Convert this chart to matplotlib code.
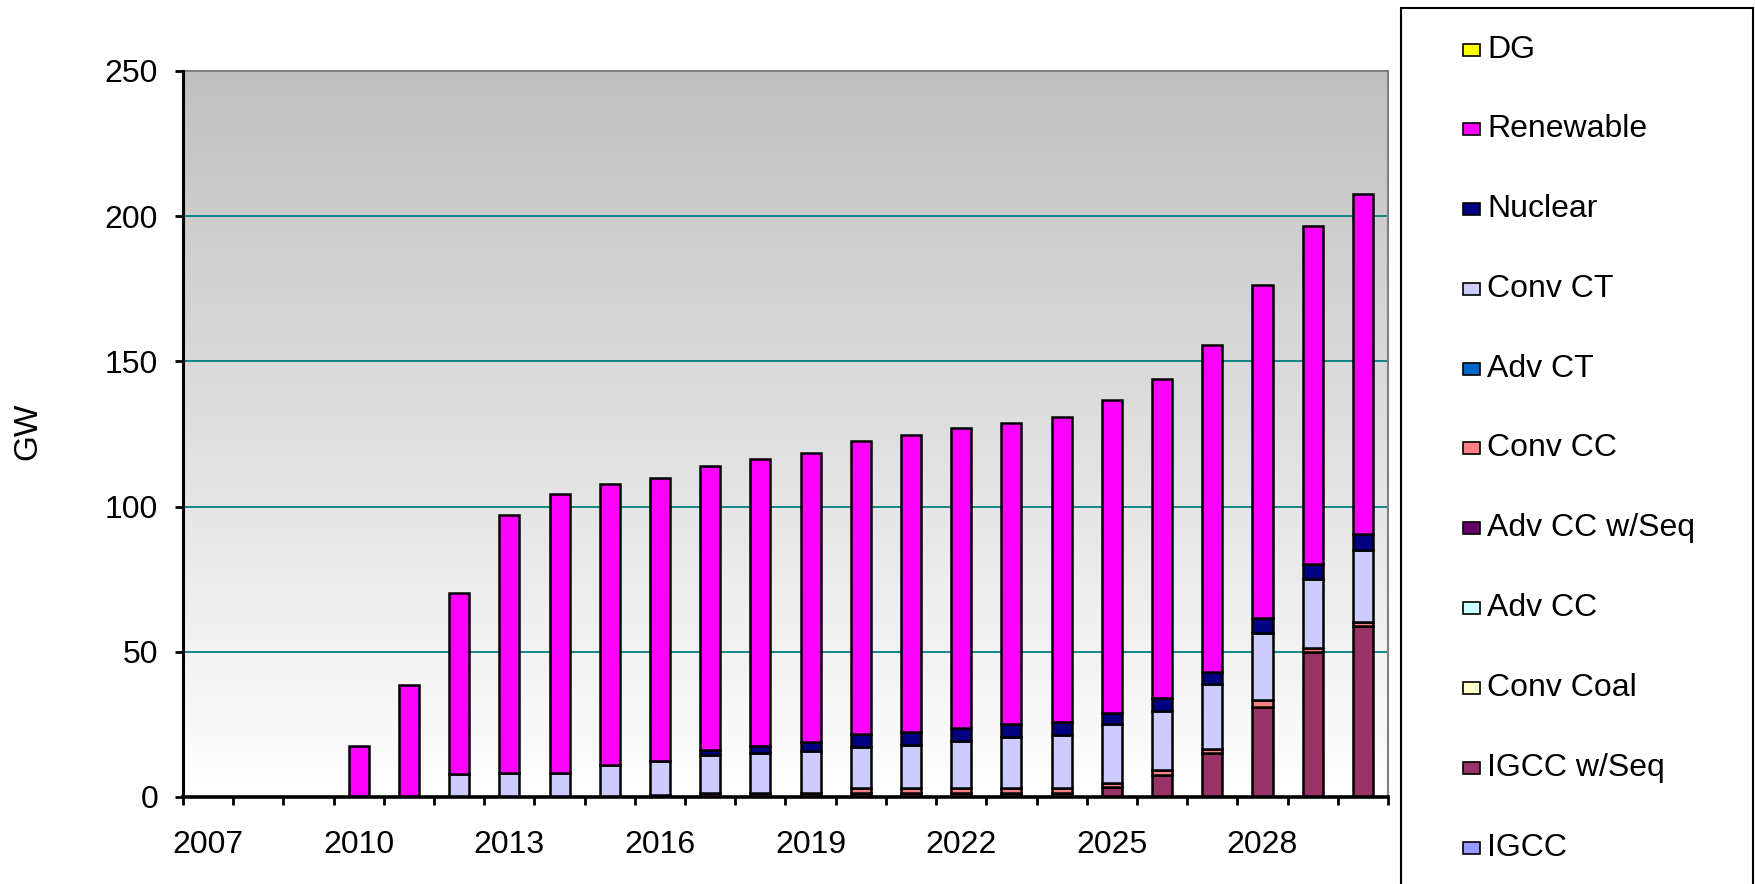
import numpy as np
import matplotlib
matplotlib.use("Agg")
import matplotlib.pyplot as plt
from matplotlib.patches import Rectangle

plt.rcParams['font.family'] = ['Liberation Sans', 'DejaVu Sans']

years = list(range(2007, 2031))
tick_labels = [str(y) if (y - 2007) % 3 == 0 else "" for y in years]

# stack order bottom -> top
igcc        = [0]*24
igcc_seq    = [0, 0, 0, 0, 0, 0, 0, 0, 0, 0, 1.5, 1.5, 1.5, 1.5, 1.5, 1.5, 1.5, 1.5, 3.6, 7.6, 15.3, 31.1, 49.8, 58.9]
conv_coal   = [0]*24
adv_cc      = [0]*24
adv_cc_seq  = [0]*24
conv_cc     = [0, 0, 0, 0, 0, 0, 0, 0, 0, 0.7, 0, 0, 0, 1.5, 1.5, 1.5, 1.5, 1.5, 1.3, 1.7, 1.3, 2.3, 1.4, 1.5]
adv_ct      = [0]*24
conv_ct     = [0, 0, 0, 0, 0, 7.8, 8.4, 8.4, 11.1, 11.7, 13.0, 13.8, 14.4, 14.3, 14.9, 16.4, 17.8, 18.4, 20.2, 20.4, 22.2, 23.2, 24.0, 24.7]
nuclear     = [0, 0, 0, 0, 0, 0, 0, 0, 0, 0, 1.7, 2.3, 2.9, 4.3, 4.4, 4.3, 4.3, 4.5, 3.9, 4.3, 4.1, 4.9, 5.0, 5.4]
renewable   = [0, 0, 0, 17.7, 38.5, 62.3, 88.7, 95.9, 96.7, 97.6, 97.8, 98.7, 99.8, 100.9, 102.5, 103.4, 103.6, 105.1, 107.7, 110.1, 112.7, 114.9, 116.3, 117.1]
dg          = [0]*24

series_names = ["IGCC", "IGCC w/Seq", "Conv Coal", "Adv CC", "Adv CC w/Seq",
                "Conv CC", "Adv CT", "Conv CT", "Nuclear", "Renewable", "DG"]
series_vals = [igcc, igcc_seq, conv_coal, adv_cc, adv_cc_seq, conv_cc, adv_ct,
               conv_ct, nuclear, renewable, dg]
series_colors = ["#9999FF", "#993366", "#FFFFCC", "#CCFFFF", "#660066",
                 "#FF8080", "#0066CC", "#CCCCFF", "#000080", "#FF00FF", "#FFFF00"]

W, H = 1756, 884
fig = plt.figure(figsize=(W/100, H/100), dpi=100)
L, R, B, T = 183, 1388, 797, 71
ax = fig.add_axes([L/W, 1 - B/H, (R-L)/W, (B-T)/H])

x = np.arange(len(years))
ax.set_xlim(-0.5, len(years) - 0.5)
ax.set_ylim(0, 250)

# gradient background: gray at top, white at bottom
grad = np.linspace(192, 255, 256)[:, None] / 255.0
img = np.dstack([grad, grad, grad])
ax.imshow(img, extent=[0, 1, 0, 1], origin='upper', transform=ax.transAxes,
          aspect='auto', zorder=0)

for yv in [50, 100, 150, 200]:
    ax.axhline(yv, color="#008080", lw=1.3, zorder=1)

bottom = np.zeros(len(years))
for name, vals, col in zip(series_names, series_vals, series_colors):
    v = np.array(vals, dtype=float)
    m = v > 0
    if m.any():
        ax.bar(x[m], v[m], 0.4, bottom=bottom[m], color=col, edgecolor="black",
               linewidth=1.8, zorder=3)
    bottom += v

# spines
for s in ["top", "right"]:
    ax.spines[s].set_color("#808080")
    ax.spines[s].set_linewidth(1.5)
ax.spines["left"].set_linewidth(2.2)
ax.spines["bottom"].set_linewidth(2.6)
ax.spines["left"].set_zorder(5)
ax.spines["bottom"].set_zorder(5)

ax.set_yticks([0, 50, 100, 150, 200, 250])
ax.tick_params(axis='y', length=6, width=2, pad=12, labelsize=23, direction='out')

ax.set_xticks(np.arange(-0.5, len(years), 1.0))
ax.set_xticklabels([])
ax.tick_params(axis='x', which='major', length=6, width=2, direction='out')
ax.set_xticks(x, minor=True)
ax.set_xticklabels(tick_labels, minor=True)
ax.tick_params(axis='x', which='minor', length=0, pad=24, labelsize=23)

fig.text(28/W, 1 - 431/H, "GW", rotation=90, fontsize=24, ha='center', va='center')

# legend box (extends beyond bottom of figure)
fig.patches.append(Rectangle((1401/W, -0.2), (1753-1401)/W, 1 - 8/H + 0.2,
                             transform=fig.transFigure, facecolor="white",
                             edgecolor="black", linewidth=1.5, clip_on=False))
y0, dy = 49.5, 79.8
for i, (name, col) in enumerate(zip(series_names[::-1], series_colors[::-1])):
    yc = y0 + i*dy
    fig.patches.append(Rectangle((1463/W, 1 - (yc + 6)/H), 17/W, 12/H,
                                 transform=fig.transFigure, facecolor=col,
                                 edgecolor="black", linewidth=1.2))
    fig.text(1487/W, 1 - yc/H, name, fontsize=23, ha='left', va='center')

fig.savefig("out.png", dpi=100)
